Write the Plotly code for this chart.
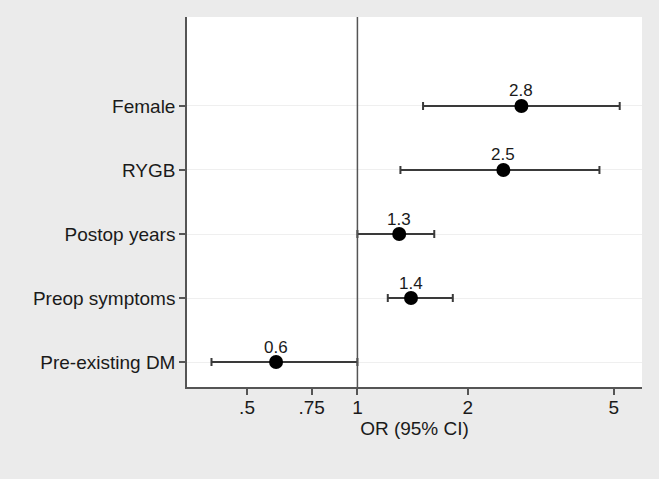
import plotly.graph_objects as go
import math

categories = ["Female", "RYGB", "Postop years", "Preop symptoms", "Pre-existing DM"]
or_values = [2.8, 2.5, 1.3, 1.4, 0.6]
ci_low = [1.51, 1.31, 1.0, 1.21, 0.40]
ci_high = [5.19, 4.57, 1.62, 1.82, 1.0]
value_labels = ["2.8", "2.5", "1.3", "1.4", "0.6"]
tick_vals = [0.5, 0.75, 1, 2, 5]
tick_text = [".5", ".75", "1", "2", "5"]

ypos = list(range(len(categories), 0, -1))
FONT = "Liberation Sans, Arial, sans-serif"

fig = go.Figure()
fig.add_trace(go.Scatter(
    x=or_values, y=ypos, mode="markers",
    marker=dict(color="black", size=14),
    error_x=dict(type="data", symmetric=False,
                 array=[h - v for h, v in zip(ci_high, or_values)],
                 arrayminus=[v - l for v, l in zip(or_values, ci_low)],
                 color="#3a3a3a", thickness=2, width=4),
    showlegend=False, cliponaxis=False,
))

for xv, yv, lab in zip(or_values, ypos, value_labels):
    fig.add_annotation(x=math.log10(xv), y=yv, text=lab, showarrow=False,
                       yshift=15, font=dict(family=FONT, size=17, color="#1a1a1a"))

fig.add_shape(type="line", xref="x", yref="paper", x0=1, x1=1, y0=0, y1=1,
              line=dict(color="#555", width=1.5))

fig.update_layout(
    width=659, height=479,
    margin=dict(l=187, r=17, t=17, b=92),
    paper_bgcolor="#ebebeb", plot_bgcolor="white",
    font=dict(family=FONT, size=19, color="#1a1a1a"),
    xaxis=dict(type="log", range=[math.log10(0.343), math.log10(5.97)],
               tickvals=tick_vals, ticktext=tick_text,
               ticks="outside", ticklen=6, tickcolor="#555", tickwidth=1.5,
               ticklabelstandoff=-4,
               showline=True, linecolor="#555", linewidth=1.5,
               showgrid=False, zeroline=False,
               tickfont=dict(size=19, color="#1a1a1a"),
               title=dict(text="OR (95% CI)", font=dict(size=19, color="#1a1a1a"), standoff=2)),
    yaxis=dict(range=[0.61, 6.39], tickvals=ypos, ticktext=categories,
               ticks="outside", ticklen=6, tickcolor="#555", tickwidth=1.5,
               showline=True, linecolor="#555", linewidth=1.5,
               showgrid=True, gridcolor="#efefef", gridwidth=1, zeroline=False,
               tickfont=dict(size=19, color="#1a1a1a")),
)

fig.write_html("out.html", config={"displayModeBar": False})
with open("out.html", "r", encoding="utf-8") as f:
    html = f.read()
html = html.replace("<head>", "<head><style>html,body{margin:0;padding:0;}</style>", 1)
with open("out.html", "w", encoding="utf-8") as f:
    f.write(html)
